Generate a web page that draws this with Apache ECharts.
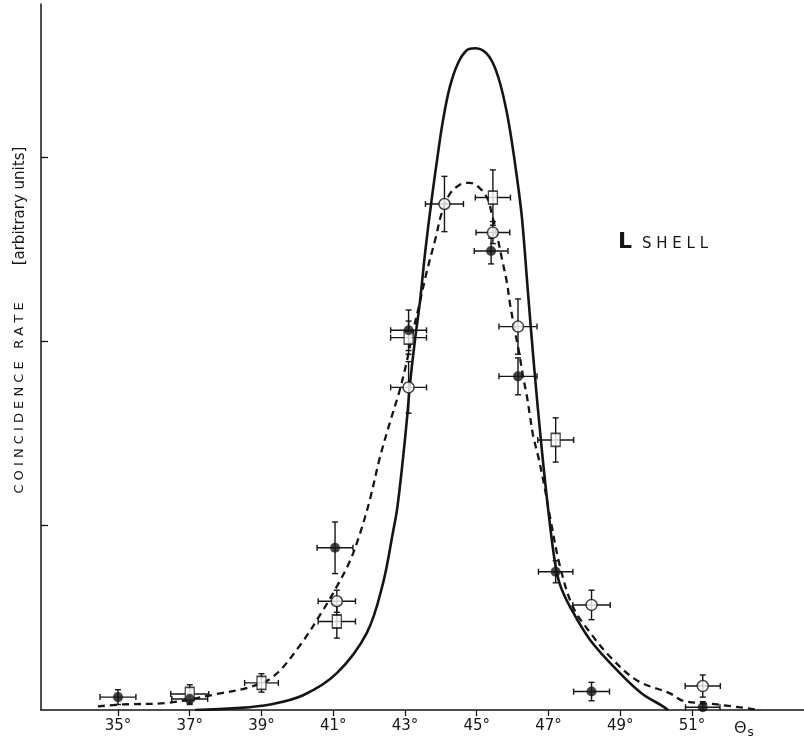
<!DOCTYPE html>
<html>
<head>
<meta charset="utf-8">
<script src="https://cdn.jsdelivr.net/npm/echarts@6/dist/echarts.min.js"></script>
<style>
  html, body { margin: 0; padding: 0; background: #fff; }
  #chart { width: 804px; height: 744px; }
</style>
</head>
<body>
<div id="chart"></div>
<script>
// tick labels on the angle axis
const angleTicks = [35, 37, 39, 41, 43, 45, 47, 49, 51];

// filled circles
const filledX = [35, 37, 41.05, 43.1, 45.4, 46.15, 47.2, 48.2, 51.3];
const filledY = [0.07, 0.06, 0.88, 2.06, 2.49, 1.81, 0.75, 0.10, 0.015];
const filledXErr = [0.5, 0.5, 0.5, 0.5, 0.47, 0.53, 0.48, 0.5, 0.48];
const filledYErr = [0.04, 0.03, 0.14, 0.11, 0.07, 0.10, 0.06, 0.05, 0.03];

// open circles
const openX = [41.1, 43.1, 44.1, 45.45, 46.15, 48.2, 51.3];
const openY = [0.59, 1.75, 2.745, 2.59, 2.08, 0.57, 0.13];
const openXErr = [0.52, 0.5, 0.53, 0.47, 0.53, 0.52, 0.49];
const openYErr = [0.06, 0.14, 0.15, 0.06, 0.15, 0.08, 0.06];

// open squares
const squareX = [37, 39, 41.1, 43.1, 45.45, 47.2];
const squareY = [0.087, 0.147, 0.48, 2.02, 2.78, 1.465];
const squareXErr = [0.53, 0.47, 0.52, 0.5, 0.49, 0.5];
const squareYErr = [0.05, 0.05, 0.09, 0.09, 0.15, 0.12];

// theory curve (solid)
const solidX = [37.15, 38.3, 39.24, 40.16, 41.1, 41.94, 42.39, 42.67, 42.78, 42.92, 43.06, 43.14, 43.28, 43.42,
  43.56, 43.75, 43.92, 44.06, 44.25, 44.48, 44.73, 44.95, 45.23, 45.45, 45.65, 45.84, 45.98, 46.12, 46.26,
  46.43, 46.6, 46.8, 46.99, 47.18, 47.32, 47.6, 48.16, 48.99, 49.6, 50.19, 50.33];
const solidY = [0, 0.01, 0.03, 0.08, 0.2, 0.42, 0.69, 0.97, 1.09, 1.32, 1.59, 1.77, 2.01, 2.22,
  2.48, 2.78, 3.02, 3.2, 3.38, 3.51, 3.58, 3.59, 3.57, 3.51, 3.4, 3.24, 3.08, 2.89, 2.67,
  2.26, 1.86, 1.44, 1.09, 0.8, 0.68, 0.56, 0.38, 0.2, 0.09, 0.02, 0];

// fitted curve (dashed)
const dashX = [34.44, 35.14, 36.45, 37.84, 38.6, 39.32, 40.07, 40.71, 41.1, 41.47, 41.75, 42.02, 42.3, 42.58,
  42.86, 43.06, 43.22, 43.4, 43.61, 43.84, 44.03, 44.25, 44.53, 44.81, 45.09, 45.31, 45.42, 45.56, 45.7,
  45.84, 45.93, 46.07, 46.18, 46.29, 46.4, 46.48, 46.57, 46.72, 46.9, 47.04, 47.32, 47.68, 48.16, 48.71,
  49.47, 50.39, 50.75, 51.7, 52.9];
const dashY = [0.02, 0.03, 0.04, 0.09, 0.12, 0.18, 0.35, 0.54, 0.67, 0.81, 0.96, 1.14, 1.37, 1.56,
  1.74, 1.9, 2.05, 2.2, 2.38, 2.55, 2.7, 2.8, 2.85, 2.86, 2.83, 2.77, 2.69, 2.58, 2.45,
  2.32, 2.2, 2.05, 1.94, 1.81, 1.7, 1.6, 1.49, 1.37, 1.2, 1.05, 0.78, 0.56, 0.42, 0.29,
  0.16, 0.09, 0.05, 0.03, 0];

const ink = '#151515';
const zip = (a, b) => a.map((v, i) => [v, b[i]]);

function errorBars(xs, ys, xe, ye) {
  return {
    type: 'custom',
    silent: true,
    z: 3,
    encode: { x: 0, y: 1 },
    data: xs.map((x, i) => [x, ys[i], xe[i], ye[i]]),
    renderItem: function (params, api) {
      const x = api.value(0), y = api.value(1), dx = api.value(2), dy = api.value(3);
      const l = api.coord([x - dx, y]);
      const r = api.coord([x + dx, y]);
      const t = api.coord([x, y + dy]);
      const b = api.coord([x, Math.max(0, y - dy)]);
      const c = 3;
      const st = { stroke: ink, lineWidth: 1.4 };
      const seg = (x1, y1, x2, y2) => ({ type: 'line', shape: { x1, y1, x2, y2 }, style: st });
      return {
        type: 'group',
        children: [
          seg(l[0], l[1], r[0], r[1]),
          seg(l[0], l[1] - c, l[0], l[1] + c),
          seg(r[0], r[1] - c, r[0], r[1] + c),
          seg(t[0], t[1], b[0], b[1]),
          seg(t[0] - c, t[1], t[0] + c, t[1]),
          seg(b[0] - c, b[1], b[0] + c, b[1])
        ]
      };
    }
  };
}

const chart = echarts.init(document.getElementById('chart'));
chart.setOption({
  animation: false,
  backgroundColor: '#fff',
  grid: { left: 41, right: 0, top: 4, bottom: 34 },
  xAxis: {
    type: 'value',
    min: 32.854,
    max: 54.122,
    splitLine: { show: false },
    axisLine: { lineStyle: { color: ink, width: 1.5 } },
    axisTick: { customValues: angleTicks, length: 6, lineStyle: { color: ink, width: 1.3 } },
    axisLabel: {
      customValues: angleTicks,
      formatter: v => v + '°',
      color: ink,
      fontSize: 15,
      fontFamily: 'DejaVu Sans',
      margin: 9
    }
  },
  yAxis: {
    type: 'value',
    min: 0,
    max: 3.83,
    splitLine: { show: false },
    axisLine: { show: true, lineStyle: { color: ink, width: 1.5 } },
    axisTick: { inside: true, customValues: [1, 2, 3], length: 7, lineStyle: { color: ink, width: 1.3 } },
    axisLabel: { show: false }
  },
  graphic: [
    {
      type: 'text',
      x: 20, y: 398,
      rotation: Math.PI / 2,
      style: {
        text: 'C O I N C I D E N C E   R A T E',
        align: 'center',
        verticalAlign: 'middle',
        fontSize: 13,
        fontFamily: 'DejaVu Sans',
        fill: ink
      }
    },
    {
      type: 'text',
      x: 20, y: 206,
      rotation: Math.PI / 2,
      style: {
        text: '[arbitrary units]',
        align: 'center',
        verticalAlign: 'middle',
        fontSize: 15,
        fontFamily: 'DejaVu Sans',
        fill: ink
      }
    },
    {
      type: 'text',
      x: 618, y: 242,
      style: {
        text: '{l|L}{s|S H E L L}',
        verticalAlign: 'middle',
        rich: {
          l: { fontSize: 22, fontWeight: 'bold', fontFamily: 'DejaVu Sans', fill: ink, padding: [0, 10, 0, 0] },
          s: { fontSize: 15, fontFamily: 'DejaVu Sans', fill: ink, padding: [4, 0, 0, 0] }
        }
      }
    },
    {
      type: 'text',
      x: 734, y: 729,
      style: {
        text: '{t|Θ}{s|s}',
        verticalAlign: 'middle',
        rich: {
          t: { fontSize: 16, fontFamily: 'DejaVu Sans', fill: ink },
          s: { fontSize: 12, fontFamily: 'DejaVu Sans', fill: ink, padding: [8, 0, 0, 1] }
        }
      }
    }
  ],
  series: [
    {
      type: 'line',
      data: zip(solidX, solidY),
      showSymbol: false,
      smooth: 0.35,
      silent: true,
      lineStyle: { color: ink, width: 2.6 },
      z: 2
    },
    {
      type: 'line',
      data: zip(dashX, dashY),
      showSymbol: false,
      smooth: 0.35,
      silent: true,
      lineStyle: { color: ink, width: 2.3, type: [7, 5] },
      z: 2
    },
    errorBars(filledX, filledY, filledXErr, filledYErr),
    errorBars(openX, openY, openXErr, openYErr),
    errorBars(squareX, squareY, squareXErr, squareYErr),
    {
      type: 'scatter',
      data: zip(filledX, filledY),
      symbol: 'circle',
      symbolSize: 10,
      itemStyle: { color: ink },
      z: 5
    },
    {
      type: 'scatter',
      data: zip(openX, openY),
      symbol: 'circle',
      symbolSize: 11,
      itemStyle: { color: '#fff', borderColor: ink, borderWidth: 1.5 },
      z: 5
    },
    {
      type: 'scatter',
      data: zip(squareX, squareY),
      symbol: 'rect',
      symbolSize: [9, 13],
      itemStyle: { color: '#fff', borderColor: ink, borderWidth: 1.5 },
      z: 4
    }
  ]
});
</script>
</body>
</html>
